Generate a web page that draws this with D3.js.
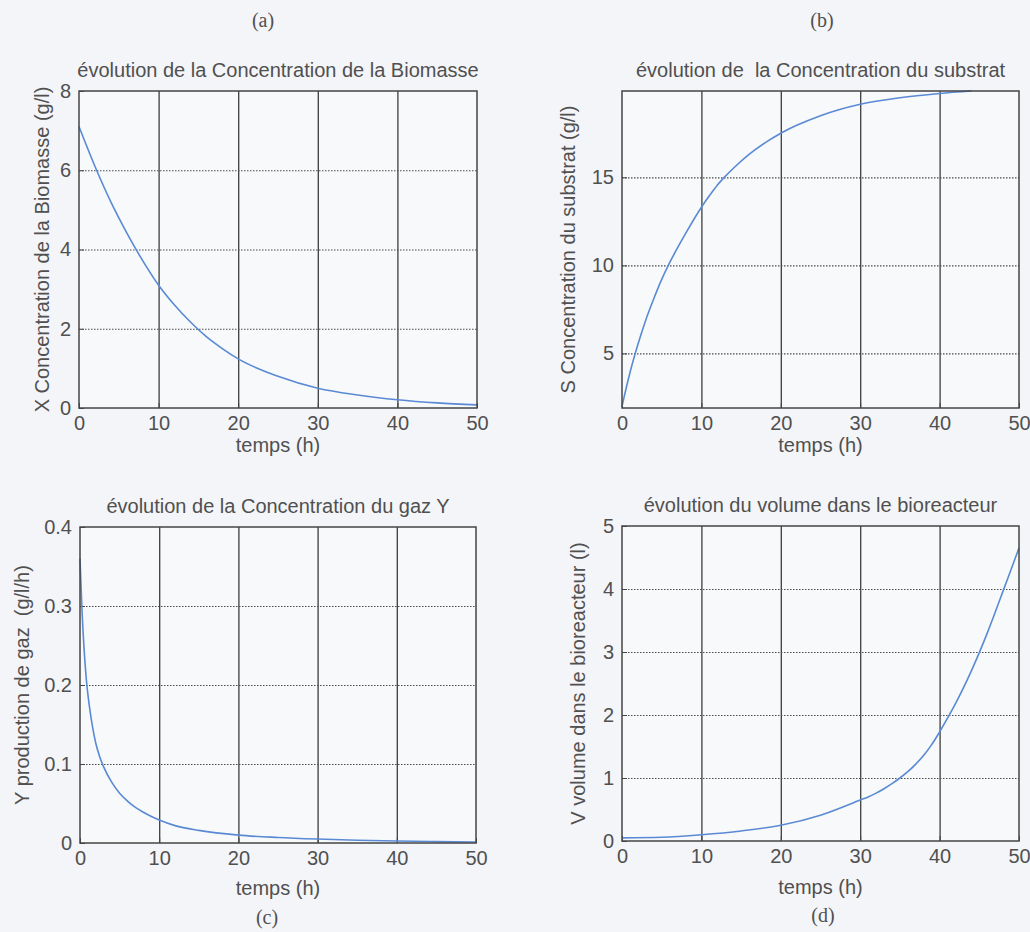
<!DOCTYPE html>
<html lang="fr">
<head>
<meta charset="UTF-8">
<title>Évolution des variables du bioréacteur</title>
<script src="https://d3js.org/d3.v7.min.js"></script>
<style>
    body { margin: 0; background: #f4f5f8; }
    text { font-family: "Liberation Sans", Arial, sans-serif; font-size: 20px; fill: #505050; white-space: pre; }
    .panel-label { font-family: "Liberation Serif", "Times New Roman", serif; }
    .bg { fill: #f8f9fb; }
    .frame { fill: none; stroke: #444; stroke-width: 1.5; }
    .curve { fill: none; stroke: #5a8ad4; stroke-width: 1.6; }
    .vgrid line { stroke: #3d3d3d; stroke-width: 1.3; }
    .hgrid line { stroke: #4a4a4a; stroke-width: 1.2; stroke-dasharray: 1.5 1.5; }
    .axis path { display: none; }
    .axis line { stroke: #444; }
</style>
</head>
<body>
<div id="chart"></div>
<script>
// values

// (a) biomasse X (g/l)
const tBiomasse = [0, 2, 4, 6, 8, 10, 12, 14, 16, 18, 20, 25, 30, 35, 40, 45, 50];
const xBiomasse = [7.1, 6.1, 5.2, 4.42, 3.72, 3.1, 2.6, 2.17, 1.8, 1.5, 1.24, 0.8, 0.5, 0.33, 0.21, 0.13, 0.08];

// (b) substrat S (g/l)
const tSubstrat = [0, 1, 2, 3, 4, 5, 6, 7, 8, 10, 11, 12, 13, 14, 16, 18, 20, 22, 25, 30, 35, 40, 44];
const sSubstrat = [2.0, 3.9, 5.5, 6.9, 8.1, 9.2, 10.15, 11.0, 11.8, 13.3, 13.95, 14.55, 15.05, 15.5, 16.3, 16.95, 17.5, 17.95, 18.5, 19.15, 19.52, 19.76, 19.9];

// (c) production de gaz Y (g/l/h)
const tGaz = [0, 0.25, 0.5, 0.8, 1.2, 1.6, 2, 2.5, 3, 4, 5, 6, 7, 8, 10, 12, 15, 20, 25, 30, 35, 40, 45, 50];
const yGaz = [0.36, 0.295, 0.248, 0.207, 0.172, 0.146, 0.126, 0.109, 0.096, 0.077, 0.063, 0.053, 0.045, 0.039, 0.029, 0.022, 0.016, 0.01, 0.007, 0.005, 0.0035, 0.0025, 0.0018, 0.0012];

// (d) volume V (l)
const tVolume = [0, 5, 10, 15, 20, 25, 30, 31, 32, 33, 34, 35, 36, 37, 38, 39, 40, 41, 42, 43, 44, 45, 46, 47, 48, 49, 50];
const vVolume = [0.05, 0.06, 0.1, 0.16, 0.25, 0.41, 0.65, 0.7, 0.76, 0.83, 0.91, 1.0, 1.1, 1.22, 1.36, 1.53, 1.73, 1.95, 2.18, 2.43, 2.7, 2.99, 3.3, 3.63, 3.97, 4.31, 4.65];

const timeTicks = [0, 10, 20, 30, 40, 50];
const ticksBiomasse = [0, 2, 4, 6, 8];
const ticksSubstrat = [5, 10, 15];
const ticksGaz = [0, 0.1, 0.2, 0.3, 0.4];
const ticksVolume = [0, 1, 2, 3, 4, 5];

const panels = [
    { t: tBiomasse, v: xBiomasse, yDomain: [0, 8], yTicks: ticksBiomasse,
      x0: 79, y0: 91, w: 398, h: 317,
      title: "évolution de la Concentration de la Biomasse",
      yLabel: "X Concentration de la Biomasse (g/l)", yLabelX: 49,
      xLabelDy: 44, tag: "(a)", tagX: 263, tagY: 27 },
    { t: tSubstrat, v: sSubstrat, yDomain: [1.9, 19.9], yTicks: ticksSubstrat,
      x0: 622, y0: 91, w: 397, h: 317,
      title: "évolution de  la Concentration du substrat",
      yLabel: "S Concentration du substrat (g/l)", yLabelX: 575,
      xLabelDy: 44, tag: "(b)", tagX: 822, tagY: 27 },
    { t: tGaz, v: yGaz, yDomain: [0, 0.4], yTicks: ticksGaz,
      x0: 80, y0: 527, w: 396, h: 316,
      title: "évolution de la Concentration du gaz Y",
      yLabel: "Y production de gaz  (g/l/h)", yLabelX: 29,
      xLabelDy: 52, tag: "(c)", tagX: 267, tagY: 924 },
    { t: tVolume, v: vVolume, yDomain: [0, 5], yTicks: ticksVolume,
      x0: 622, y0: 526, w: 397, h: 315,
      title: "évolution du volume dans le bioreacteur",
      yLabel: "V volume dans le bioreacteur (l)", yLabelX: 585,
      xLabelDy: 53, tag: "(d)", tagX: 823, tagY: 922 }
];

const svg = d3.select("#chart").append("svg")
    .attr("width", 1030)
    .attr("height", 932);

panels.forEach(p => {
    const x = d3.scaleLinear().domain([0, 50]).range([0, p.w]);
    const y = d3.scaleLinear().domain(p.yDomain).range([p.h, 0]);
    const g = svg.append("g").attr("transform", `translate(${p.x0},${p.y0})`);

    g.append("rect").attr("class", "bg").attr("width", p.w).attr("height", p.h);

    // grid: solid verticals, dotted horizontals
    g.append("g").attr("class", "vgrid")
        .attr("transform", `translate(0,${p.h})`)
        .call(d3.axisBottom(x).tickValues(timeTicks.slice(1, -1)).tickSize(-p.h).tickFormat(""))
        .select(".domain").remove();
    g.append("g").attr("class", "hgrid")
        .call(d3.axisLeft(y).tickValues(p.yTicks.filter(v => v > p.yDomain[0] && v < p.yDomain[1])).tickSize(-p.w).tickFormat(""))
        .select(".domain").remove();

    g.append("g").attr("class", "axis")
        .attr("transform", `translate(0,${p.h})`)
        .call(d3.axisBottom(x).tickValues(timeTicks).tickSize(-5).tickPadding(8).tickFormat(d3.format("d")));
    g.append("g").attr("class", "axis")
        .call(d3.axisLeft(y).tickValues(p.yTicks).tickSize(-5).tickPadding(8).tickFormat(d3.format("~g")));

    g.selectAll(".axis text").style("font-size", "20px").attr("fill", "#505050");

    const line = d3.line()
        .x((d, i) => x(p.t[i]))
        .y(d => y(d))
        .curve(d3.curveMonotoneX);
    g.append("path").attr("class", "curve").attr("d", line(p.v));

    g.append("rect").attr("class", "frame").attr("width", p.w).attr("height", p.h);

    g.append("text")
        .attr("x", p.w / 2).attr("y", -14)
        .attr("text-anchor", "middle")
        .text(p.title);

    g.append("text")
        .attr("x", p.w / 2).attr("y", p.h + p.xLabelDy)
        .attr("text-anchor", "middle")
        .text("temps (h)");

    svg.append("text")
        .attr("transform", `translate(${p.yLabelX},${p.y0 + p.h / 2}) rotate(-90)`)
        .attr("text-anchor", "middle")
        .text(p.yLabel);

    svg.append("text").attr("class", "panel-label")
        .attr("x", p.tagX).attr("y", p.tagY)
        .attr("text-anchor", "middle")
        .text(p.tag);
});
</script>
</body>
</html>
